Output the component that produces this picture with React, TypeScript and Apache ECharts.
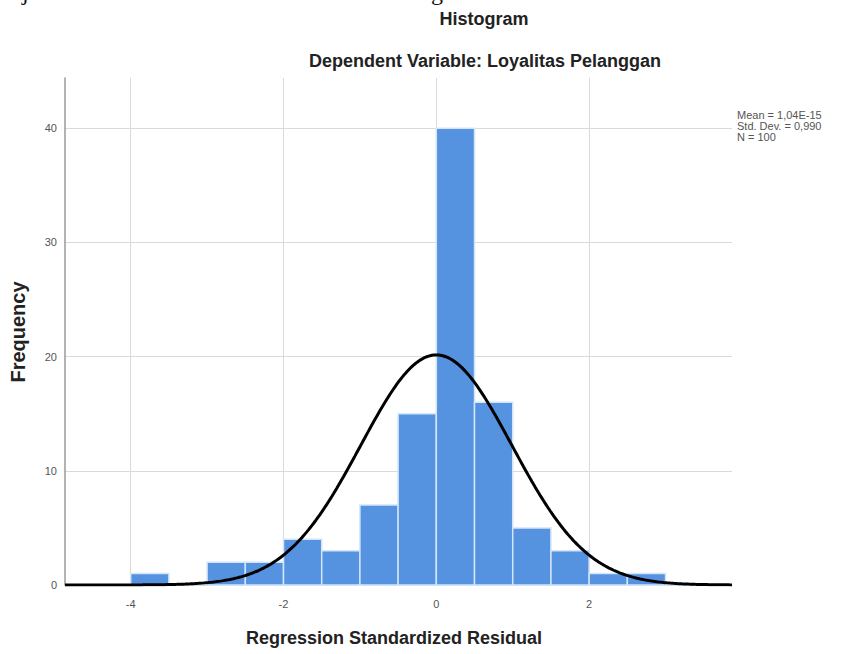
import React, { useEffect, useRef } from "react";
import * as echarts from "echarts";

// Histogram bins (lower edge, upper edge) and frequencies
const binStarts = [-4, -3.5, -3, -2.5, -2, -1.5, -1, -0.5, 0, 0.5, 1, 1.5, 2, 2.5];
const binEnds = [-3.5, -3, -2.5, -2, -1.5, -1, -0.5, 0, 0.5, 1, 1.5, 2, 2.5, 3];
const frequencies = [1, 0, 2, 2, 4, 3, 7, 15, 40, 16, 5, 3, 1, 1];

// Summary statistics shown at right
const statMean = 0; // 1,04E-15
const statStd = 0.99;
const statN = 100;
const statLabels = ["Mean = 1,04E-15", "Std. Dev. = 0,990", "N = 100"];

const xTickLabels = [-4, -2, 0, 2];
const yTickLabels = [0, 10, 20, 30, 40];

const X_MIN = -4.86;
const X_MAX = 3.87;
const Y_MAX = 44.4;

const FONT = "'Liberation Sans', Arial, Helvetica, sans-serif";

export default function App() {
  const ref = useRef<HTMLDivElement>(null);

  useEffect(() => {
    if (!ref.current) return;
    const chart = echarts.init(ref.current, undefined, { renderer: "svg" });

    const barData = binStarts.map((s, i) => [s, binEnds[i], frequencies[i]]);

    // Fitted normal curve from the reported mean / std. dev. / N
    const binWidth = binEnds[0] - binStarts[0];
    const curve: number[][] = [];
    const steps = 400;
    for (let k = 0; k <= steps; k++) {
      const x = X_MIN + ((X_MAX - X_MIN) * k) / steps;
      const z = (x - statMean) / statStd;
      const y = (statN * binWidth) / (statStd * Math.sqrt(2 * Math.PI)) * Math.exp(-0.5 * z * z);
      curve.push([x, y]);
    }

    const textColor = "#222";

    chart.setOption({
      animation: false,
      backgroundColor: "#ffffff",
      grid: { left: 65, right: 109, top: 78, bottom: 69, containLabel: false },
      xAxis: {
        type: "value",
        min: X_MIN,
        max: X_MAX,
        axisLine: { show: true, onZero: false, lineStyle: { color: "#c9dcf0", width: 1 } },
        axisTick: { show: false, customValues: xTickLabels },
        axisLabel: {
          customValues: xTickLabels,
          color: "#555",
          fontSize: 11,
          fontFamily: FONT,
          margin: 13,
        },
        splitLine: { show: true, lineStyle: { color: "#dadada", width: 1 } },
      },
      yAxis: {
        type: "value",
        min: 0,
        max: Y_MAX,
        axisLine: { show: true, onZero: false, lineStyle: { color: "#9a9a9a", width: 1.5 } },
        axisTick: { show: false, customValues: yTickLabels },
        axisLabel: {
          customValues: yTickLabels,
          color: "#555",
          fontSize: 11,
          fontFamily: FONT,
          margin: 8,
        },
        splitLine: { show: true, lineStyle: { color: "#dadada", width: 1 } },
      },
      series: [
        {
          type: "custom",
          data: barData,
          encode: { x: [0, 1], y: 2 },
          z: 2,
          renderItem: (params: any, api: any) => {
            const x0 = api.value(0);
            const x1 = api.value(1);
            const c = api.value(2);
            if (!c) return null;
            const p0 = api.coord([x0, 0]);
            const p1 = api.coord([x1, c]);
            return {
              type: "rect",
              shape: { x: p0[0], y: p1[1], width: p1[0] - p0[0], height: p0[1] - p1[1] },
              style: { fill: "#5592e0", stroke: "#d3e5f8", lineWidth: 1.5 },
            };
          },
        },
        {
          type: "line",
          data: curve,
          showSymbol: false,
          symbol: "none",
          z: 3,
          lineStyle: { color: "#000000", width: 3 },
          silent: true,
        },
      ],
      graphic: [
        // cropped fragments of a line of document text above the figure
        {
          type: "text",
          x: 22,
          y: -8,
          style: { text: "j", font: "24px 'Liberation Serif', serif", fill: "#111", verticalAlign: "middle" },
        },
        {
          type: "text",
          x: 431,
          y: -8,
          style: { text: "g", font: "24px 'Liberation Serif', serif", fill: "#111", verticalAlign: "middle" },
        },
        {
          type: "text",
          x: 484,
          y: 19,
          style: {
            text: "Histogram",
            font: `bold 18px ${FONT}`,
            fill: textColor,
            align: "center",
            verticalAlign: "middle",
          },
        },
        {
          type: "text",
          x: 485,
          y: 61,
          style: {
            text: "Dependent Variable: Loyalitas Pelanggan",
            font: `bold 18px ${FONT}`,
            fill: textColor,
            align: "center",
            verticalAlign: "middle",
          },
        },
        {
          type: "text",
          x: 18,
          y: 332,
          rotation: Math.PI / 2,
          style: {
            text: "Frequency",
            font: `bold 20px ${FONT}`,
            fill: textColor,
            align: "center",
            verticalAlign: "middle",
          },
        },
        {
          type: "text",
          x: 394,
          y: 638,
          style: {
            text: "Regression Standardized Residual",
            font: `bold 18px ${FONT}`,
            fill: textColor,
            align: "center",
            verticalAlign: "middle",
          },
        },
        ...statLabels.map((t, i) => ({
          type: "text",
          x: 737,
          y: 115 + i * 11,
          style: {
            text: t,
            font: `11px ${FONT}`,
            fill: "#555",
            align: "left",
            verticalAlign: "middle",
          },
        })),
      ],
    });

    return () => chart.dispose();
  }, []);

  return (
    <div
      ref={ref}
      style={{ position: "fixed", left: 0, top: 0, width: 841, height: 654, background: "#fff" }}
    />
  );
}
